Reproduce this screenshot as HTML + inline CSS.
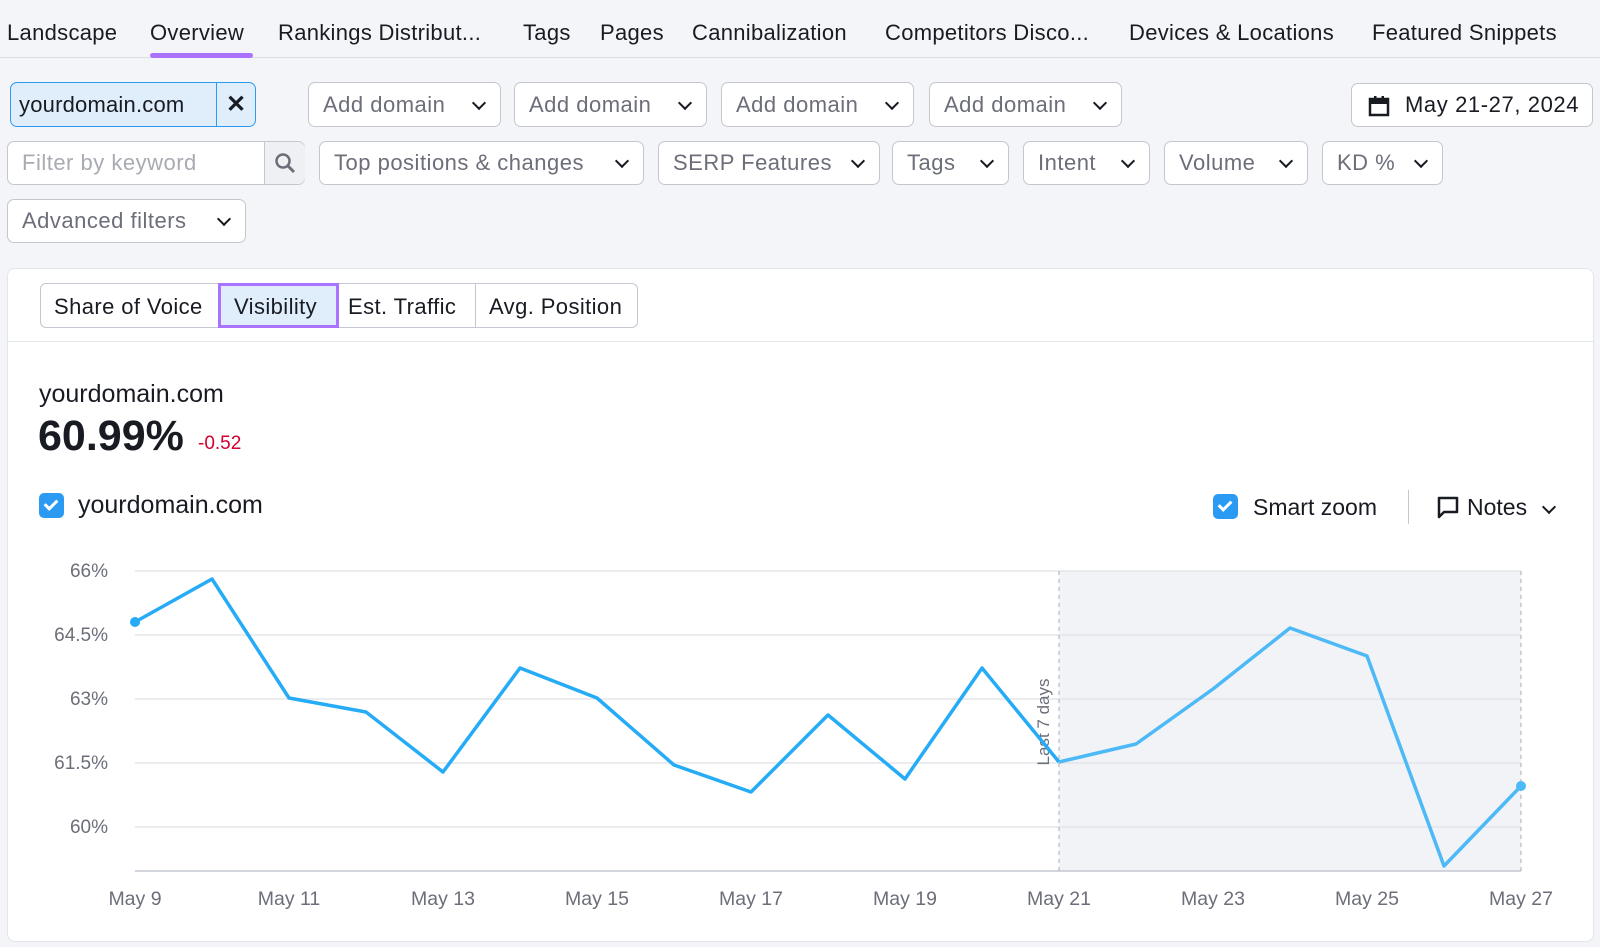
<!DOCTYPE html>
<html><head><meta charset="utf-8"><style>
*{box-sizing:border-box;margin:0;padding:0}
body{width:1600px;height:947px;background:#f4f5f9;font-family:"Liberation Sans",sans-serif;color:#191b23;position:relative;overflow:hidden}
.a{position:absolute;white-space:nowrap}
.nav{font-size:22px;top:20px;letter-spacing:0.3px}
.box{position:absolute;background:#fff;border:1px solid #c4c7cf;border-radius:7px;font-size:22px;letter-spacing:0.5px;color:#6c6e79;display:flex;align-items:center;padding-left:14px}
.chev{position:absolute;right:16px;top:50%;width:10px;height:10px;border-right:2.5px solid #191b23;border-bottom:2.5px solid #191b23;transform:translateY(-70%) rotate(45deg)}
</style></head><body>
<div class="a nav" style="left:7px">Landscape</div>
<div class="a nav" style="left:150px">Overview</div>
<div class="a nav" style="left:278px">Rankings Distribut...</div>
<div class="a nav" style="left:523px">Tags</div>
<div class="a nav" style="left:600px">Pages</div>
<div class="a nav" style="left:692px">Cannibalization</div>
<div class="a nav" style="left:885px">Competitors Disco...</div>
<div class="a nav" style="left:1129px">Devices &amp; Locations</div>
<div class="a nav" style="left:1372px">Featured Snippets</div>
<div class="a" style="left:0;top:57px;width:1600px;height:1px;background:#dcdee4"></div>
<div class="a" style="left:150px;top:53px;width:103px;height:5px;border-radius:3px;background:#a972ff"></div>

<div class="box" style="left:10px;top:82px;width:246px;height:45px;background:#e0eefc;border-color:#2b9af3;color:#191b23;padding-left:8px;letter-spacing:0.2px">yourdomain.com<span style="position:absolute;left:205px;top:0;bottom:0;width:1px;background:#2b9af3"></span><span style="position:absolute;left:215px;font-size:24px;font-weight:bold">✕</span></div>
<div class="box" style="left:308px;top:82px;width:193px;height:45px">Add domain<span class="chev"></span></div>
<div class="box" style="left:514px;top:82px;width:193px;height:45px">Add domain<span class="chev"></span></div>
<div class="box" style="left:721px;top:82px;width:193px;height:45px">Add domain<span class="chev"></span></div>
<div class="box" style="left:929px;top:82px;width:193px;height:45px">Add domain<span class="chev"></span></div>
<div class="box" style="left:1351px;top:83px;width:242px;height:44px;color:#191b23;padding-left:53px;letter-spacing:0.6px">May 21-27, 2024
<svg style="position:absolute;left:16px;top:11px" width="22" height="22" viewBox="0 0 22 22"><rect x="2" y="4" width="18" height="16" fill="none" stroke="#191b23" stroke-width="2.5"/><rect x="2" y="4" width="18" height="5" fill="#191b23"/><rect x="6" y="1" width="2.5" height="5" fill="#191b23"/><rect x="13.5" y="1" width="2.5" height="5" fill="#191b23"/></svg></div>

<div class="box" style="left:7px;top:141px;width:298px;height:44px;color:#a9abb3">Filter by keyword<span style="position:absolute;left:256px;top:0;width:41px;height:42px;background:#eef0f3;border-left:1px solid #c4c7cf;border-radius:0 7px 7px 0"></span>
<svg style="position:absolute;left:266px;top:10px" width="22" height="22"><circle cx="9" cy="9" r="6.5" fill="none" stroke="#6c6e79" stroke-width="2.5"/><line x1="13.5" y1="13.5" x2="20" y2="20" stroke="#6c6e79" stroke-width="3"/></svg></div>
<div class="box" style="left:319px;top:141px;width:325px;height:44px">Top positions &amp; changes<span class="chev"></span></div>
<div class="box" style="left:658px;top:141px;width:222px;height:44px">SERP Features<span class="chev"></span></div>
<div class="box" style="left:892px;top:141px;width:117px;height:44px">Tags<span class="chev"></span></div>
<div class="box" style="left:1023px;top:141px;width:127px;height:44px">Intent<span class="chev"></span></div>
<div class="box" style="left:1164px;top:141px;width:144px;height:44px">Volume<span class="chev"></span></div>
<div class="box" style="left:1322px;top:141px;width:121px;height:44px">KD %<span class="chev"></span></div>
<div class="box" style="left:7px;top:199px;width:239px;height:44px">Advanced filters<span class="chev"></span></div>

<div class="a" style="left:7px;top:268px;width:1587px;height:674px;background:#fff;border:1px solid #e3e5ea;border-radius:8px"></div>
<div class="a" style="left:40px;top:283px;width:598px;height:45px;border:1px solid #c4c7cf;border-radius:6px;font-size:22px;letter-spacing:0.4px">
<span class="a" style="left:13px;top:10px">Share of Voice</span>
<span class="a" style="left:177px;top:-1px;width:121px;height:45px;background:#e0eefc;border:3px solid #a972ff"></span>
<span class="a" style="left:193px;top:10px">Visibility</span>
<span class="a" style="left:434px;top:0;width:1px;height:43px;background:#c4c7cf"></span>
<span class="a" style="left:307px;top:10px">Est. Traffic</span>
<span class="a" style="left:448px;top:10px">Avg. Position</span>
</div>
<div class="a" style="left:7px;top:341px;width:1587px;height:1px;background:#e3e5ea"></div>
<div class="a" style="left:39px;top:380px;font-size:25px">yourdomain.com</div>
<div class="a" style="left:38px;top:412px;font-size:43px;font-weight:bold">60.99%</div>
<div class="a" style="left:198px;top:433px;font-size:19px;color:#d1002f">-0.52</div>

<div class="a" style="left:39px;top:493px;width:25px;height:25px;background:#2b9af3;border-radius:5px"><span class="a" style="left:8px;top:4px;width:8px;height:13px;border-right:3px solid #fff;border-bottom:3px solid #fff;transform:rotate(45deg)"></span></div>
<div class="a" style="left:78px;top:491px;font-size:25px">yourdomain.com</div>
<div class="a" style="left:1213px;top:494px;width:25px;height:25px;background:#2b9af3;border-radius:5px"><span class="a" style="left:8px;top:4px;width:8px;height:13px;border-right:3px solid #fff;border-bottom:3px solid #fff;transform:rotate(45deg)"></span></div>
<div class="a" style="left:1253px;top:494px;font-size:23px">Smart zoom</div>
<div class="a" style="left:1408px;top:490px;width:1px;height:34px;background:#c4c7cf"></div>
<svg class="a" style="left:1436px;top:495px" width="24" height="24"><path d="M3 3H21V17H8L3 22Z" fill="none" stroke="#191b23" stroke-width="2.5" stroke-linejoin="round"/></svg>
<div class="a" style="left:1467px;top:494px;font-size:23px">Notes</div>
<span class="a" style="left:1544px;top:502px;width:10px;height:10px;border-right:2.5px solid #191b23;border-bottom:2.5px solid #191b23;transform:rotate(45deg)"></span>

<svg class="a" style="left:0;top:0" width="1600" height="947">
<rect x="1059" y="571" width="462" height="300" fill="#f2f3f7"/>
<g stroke="#e3e5ea" stroke-width="1.5">
<line x1="135" y1="571" x2="1521" y2="571"/><line x1="135" y1="635" x2="1521" y2="635"/><line x1="135" y1="699" x2="1521" y2="699"/><line x1="135" y1="763" x2="1521" y2="763"/><line x1="135" y1="827" x2="1521" y2="827"/></g>
<line x1="135" y1="871" x2="1521" y2="871" stroke="#c4c7cf" stroke-width="1.5"/>
<g stroke="#b5b8c0" stroke-width="1.2" stroke-dasharray="4,4"><line x1="1059" y1="571" x2="1059" y2="871"/><line x1="1521" y1="571" x2="1521" y2="871"/></g>
<text transform="translate(1049,722) rotate(-90)" text-anchor="middle" font-family="Liberation Sans" font-size="17" fill="#6c6e79">Last 7 days</text>
<g font-family="Liberation Sans" font-size="19" fill="#6c6e79" text-anchor="end">
<text x="108" y="577">66%</text><text x="108" y="641">64.5%</text><text x="108" y="705">63%</text><text x="108" y="769">61.5%</text><text x="108" y="833">60%</text></g>
<g font-family="Liberation Sans" font-size="19.5" fill="#6c6e79" text-anchor="middle">
<text x="135" y="905">May 9</text><text x="289" y="905">May 11</text><text x="443" y="905">May 13</text><text x="597" y="905">May 15</text><text x="751" y="905">May 17</text><text x="905" y="905">May 19</text><text x="1059" y="905">May 21</text><text x="1213" y="905">May 23</text><text x="1367" y="905">May 25</text><text x="1521" y="905">May 27</text></g>
<polyline fill="none" stroke="#26abf7" stroke-width="3.5" stroke-linejoin="round" points="135,622 212,579 289,698 366,712 443,772 520,668 597,698 674,765 751,792 828,715 905,779 982,668 1059,762"/>
<polyline fill="none" stroke="#4db9f6" stroke-width="3.5" stroke-linejoin="round" points="1059,762 1136,744 1213,689 1290,628 1367,656 1444,866 1521,786"/>
<circle cx="135" cy="622" r="5" fill="#26abf7"/><circle cx="1521" cy="786" r="5" fill="#4db9f6"/>
</svg>
</body></html>
